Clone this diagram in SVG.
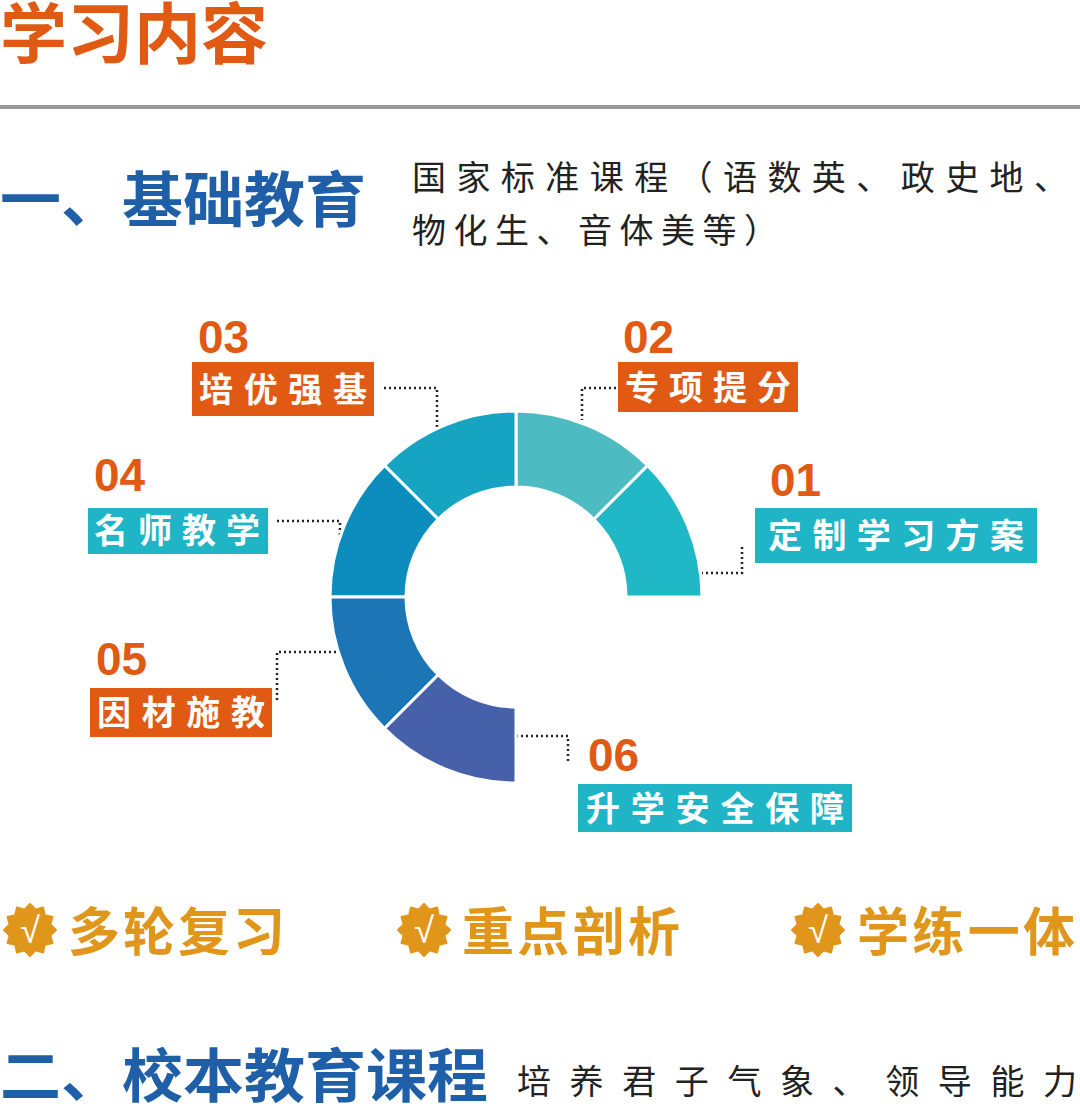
<svg xmlns="http://www.w3.org/2000/svg" width="1080" height="1107" viewBox="0 0 1080 1107">
<style>
.h{font-family:"Liberation Sans","Noto Sans CJK SC",sans-serif;font-weight:bold}
.num{font-family:"Liberation Sans",sans-serif;font-weight:bold;font-size:46px;fill:#e05a14}
.lb{font-family:"Noto Sans CJK SC",sans-serif;font-weight:bold;font-size:34px;fill:#fff}
.desc{font-family:"Noto Sans CJK SC",sans-serif;font-size:34px;fill:#222}
.gold{font-family:"Noto Sans CJK SC",sans-serif;font-weight:bold;font-size:52px;fill:#e0961a}
.dot{fill:none;stroke:#222;stroke-width:2.5;stroke-dasharray:2 3}
.seg{stroke:#fff;stroke-width:3}
.or{fill:#e05a14}.cy{fill:#1fb5c6}
</style>
<defs>
<g id="badge"><polygon points="26,0 20.28,5.44 22.52,13 14.85,14.85 13,22.52 5.44,20.28 0,26 -5.44,20.28 -13,22.52 -14.85,14.85 -22.52,13 -20.28,5.44 -26,0 -20.28,-5.44 -22.52,-13 -14.85,-14.85 -13,-22.52 -5.44,-20.28 0,-26 5.44,-20.28 13,-22.52 14.85,-14.85 22.52,-13 20.28,-5.44" fill="#e0961a" stroke="#e0961a" stroke-width="2" stroke-linejoin="round"/><text x="0" y="13" text-anchor="middle" font-family="Liberation Sans,sans-serif" font-size="36" fill="#fff">√</text></g>
</defs>
<text x="0" y="58" class="h" font-size="66" fill="#e05a14" textLength="268" lengthAdjust="spacingAndGlyphs">学习内容</text>
<rect x="0" y="105" width="1080" height="4" fill="#999"/>
<text x="0" y="222" class="h" font-size="60" fill="#1f5fa8" textLength="366" lengthAdjust="spacingAndGlyphs">一、基础教育</text>
<text x="412" y="190" class="desc" textLength="656">国家标准课程（语数英、政史地、</text>
<text x="412" y="243" class="desc" textLength="366">物化生、音体美等）</text>
<g id="connectors">
<path class="dot" d="M384,388 H437 V428"/>
<path class="dot" d="M616,388 H582 V420"/>
<path class="dot" d="M742,547 V573 H702"/>
<path class="dot" d="M277,521 H340 V535"/>
<path class="dot" d="M277,700 V652 H336"/>
<path class="dot" d="M516,736 H568 V764"/>
</g>
<g id="donut">
<path class="seg" fill="#20b8c6" d="M702,597 A186,186 0 0 0 647.5,465.5 L593.8,519.2 A110,110 0 0 1 626,597 Z"/>
<path class="seg" fill="#4dbcc2" d="M647.5,465.5 A186,186 0 0 0 516,411 L516,487 A110,110 0 0 1 593.8,519.2 Z"/>
<path class="seg" fill="#17a4c2" d="M516,411 A186,186 0 0 0 384.5,465.5 L438.2,519.2 A110,110 0 0 1 516,487 Z"/>
<path class="seg" fill="#0c8dbd" d="M384.5,465.5 A186,186 0 0 0 330,597 L406,597 A110,110 0 0 1 438.2,519.2 Z"/>
<path class="seg" fill="#1c76b6" d="M330,597 A186,186 0 0 0 384.5,728.5 L438.2,674.8 A110,110 0 0 1 406,597 Z"/>
<path class="seg" fill="#4760aa" d="M384.5,728.5 A186,186 0 0 0 516,783 L516,707 A110,110 0 0 1 438.2,674.8 Z"/>
</g>
<g id="n03"><text x="198" y="353" class="num">03</text><rect x="192" y="362" width="182" height="54" class="or"/><text x="199" y="402" class="lb" textLength="168">培优强基</text></g>
<g id="n02"><text x="623" y="353" class="num">02</text><rect x="618" y="362" width="180" height="50" class="or"/><text x="625" y="400" class="lb" textLength="166">专项提分</text></g>
<g id="n01"><text x="770" y="496" class="num">01</text><rect x="755" y="508" width="282" height="55" class="cy"/><text x="768" y="548" class="lb" textLength="256">定制学习方案</text></g>
<g id="n04"><text x="94" y="491" class="num">04</text><rect x="88" y="508" width="180" height="46" class="cy"/><text x="94" y="543" class="lb" textLength="166">名师教学</text></g>
<g id="n05"><text x="96" y="675" class="num">05</text><rect x="90" y="688" width="182" height="49" class="or"/><text x="97" y="725" class="lb" textLength="168">因材施教</text></g>
<g id="n06"><text x="588" y="771" class="num">06</text><rect x="578" y="784" width="274" height="48" class="cy"/><text x="586" y="821" class="lb" textLength="258">升学安全保障</text></g>
<g id="b1"><use href="#badge" x="30" y="930"/><text x="68" y="951" class="gold" textLength="217">多轮复习</text></g>
<g id="b2"><use href="#badge" x="424" y="930"/><text x="462" y="951" class="gold" textLength="218">重点剖析</text></g>
<g id="b3"><use href="#badge" x="818" y="930"/><text x="857" y="951" class="gold" textLength="218">学练一体</text></g>
<text x="0" y="1097" class="h" font-size="58" fill="#1f5fa8" textLength="488" lengthAdjust="spacingAndGlyphs">二、校本教育课程</text>
<text x="517" y="1094" class="desc" textLength="560">培养君子气象、领导能力</text>
</svg>
